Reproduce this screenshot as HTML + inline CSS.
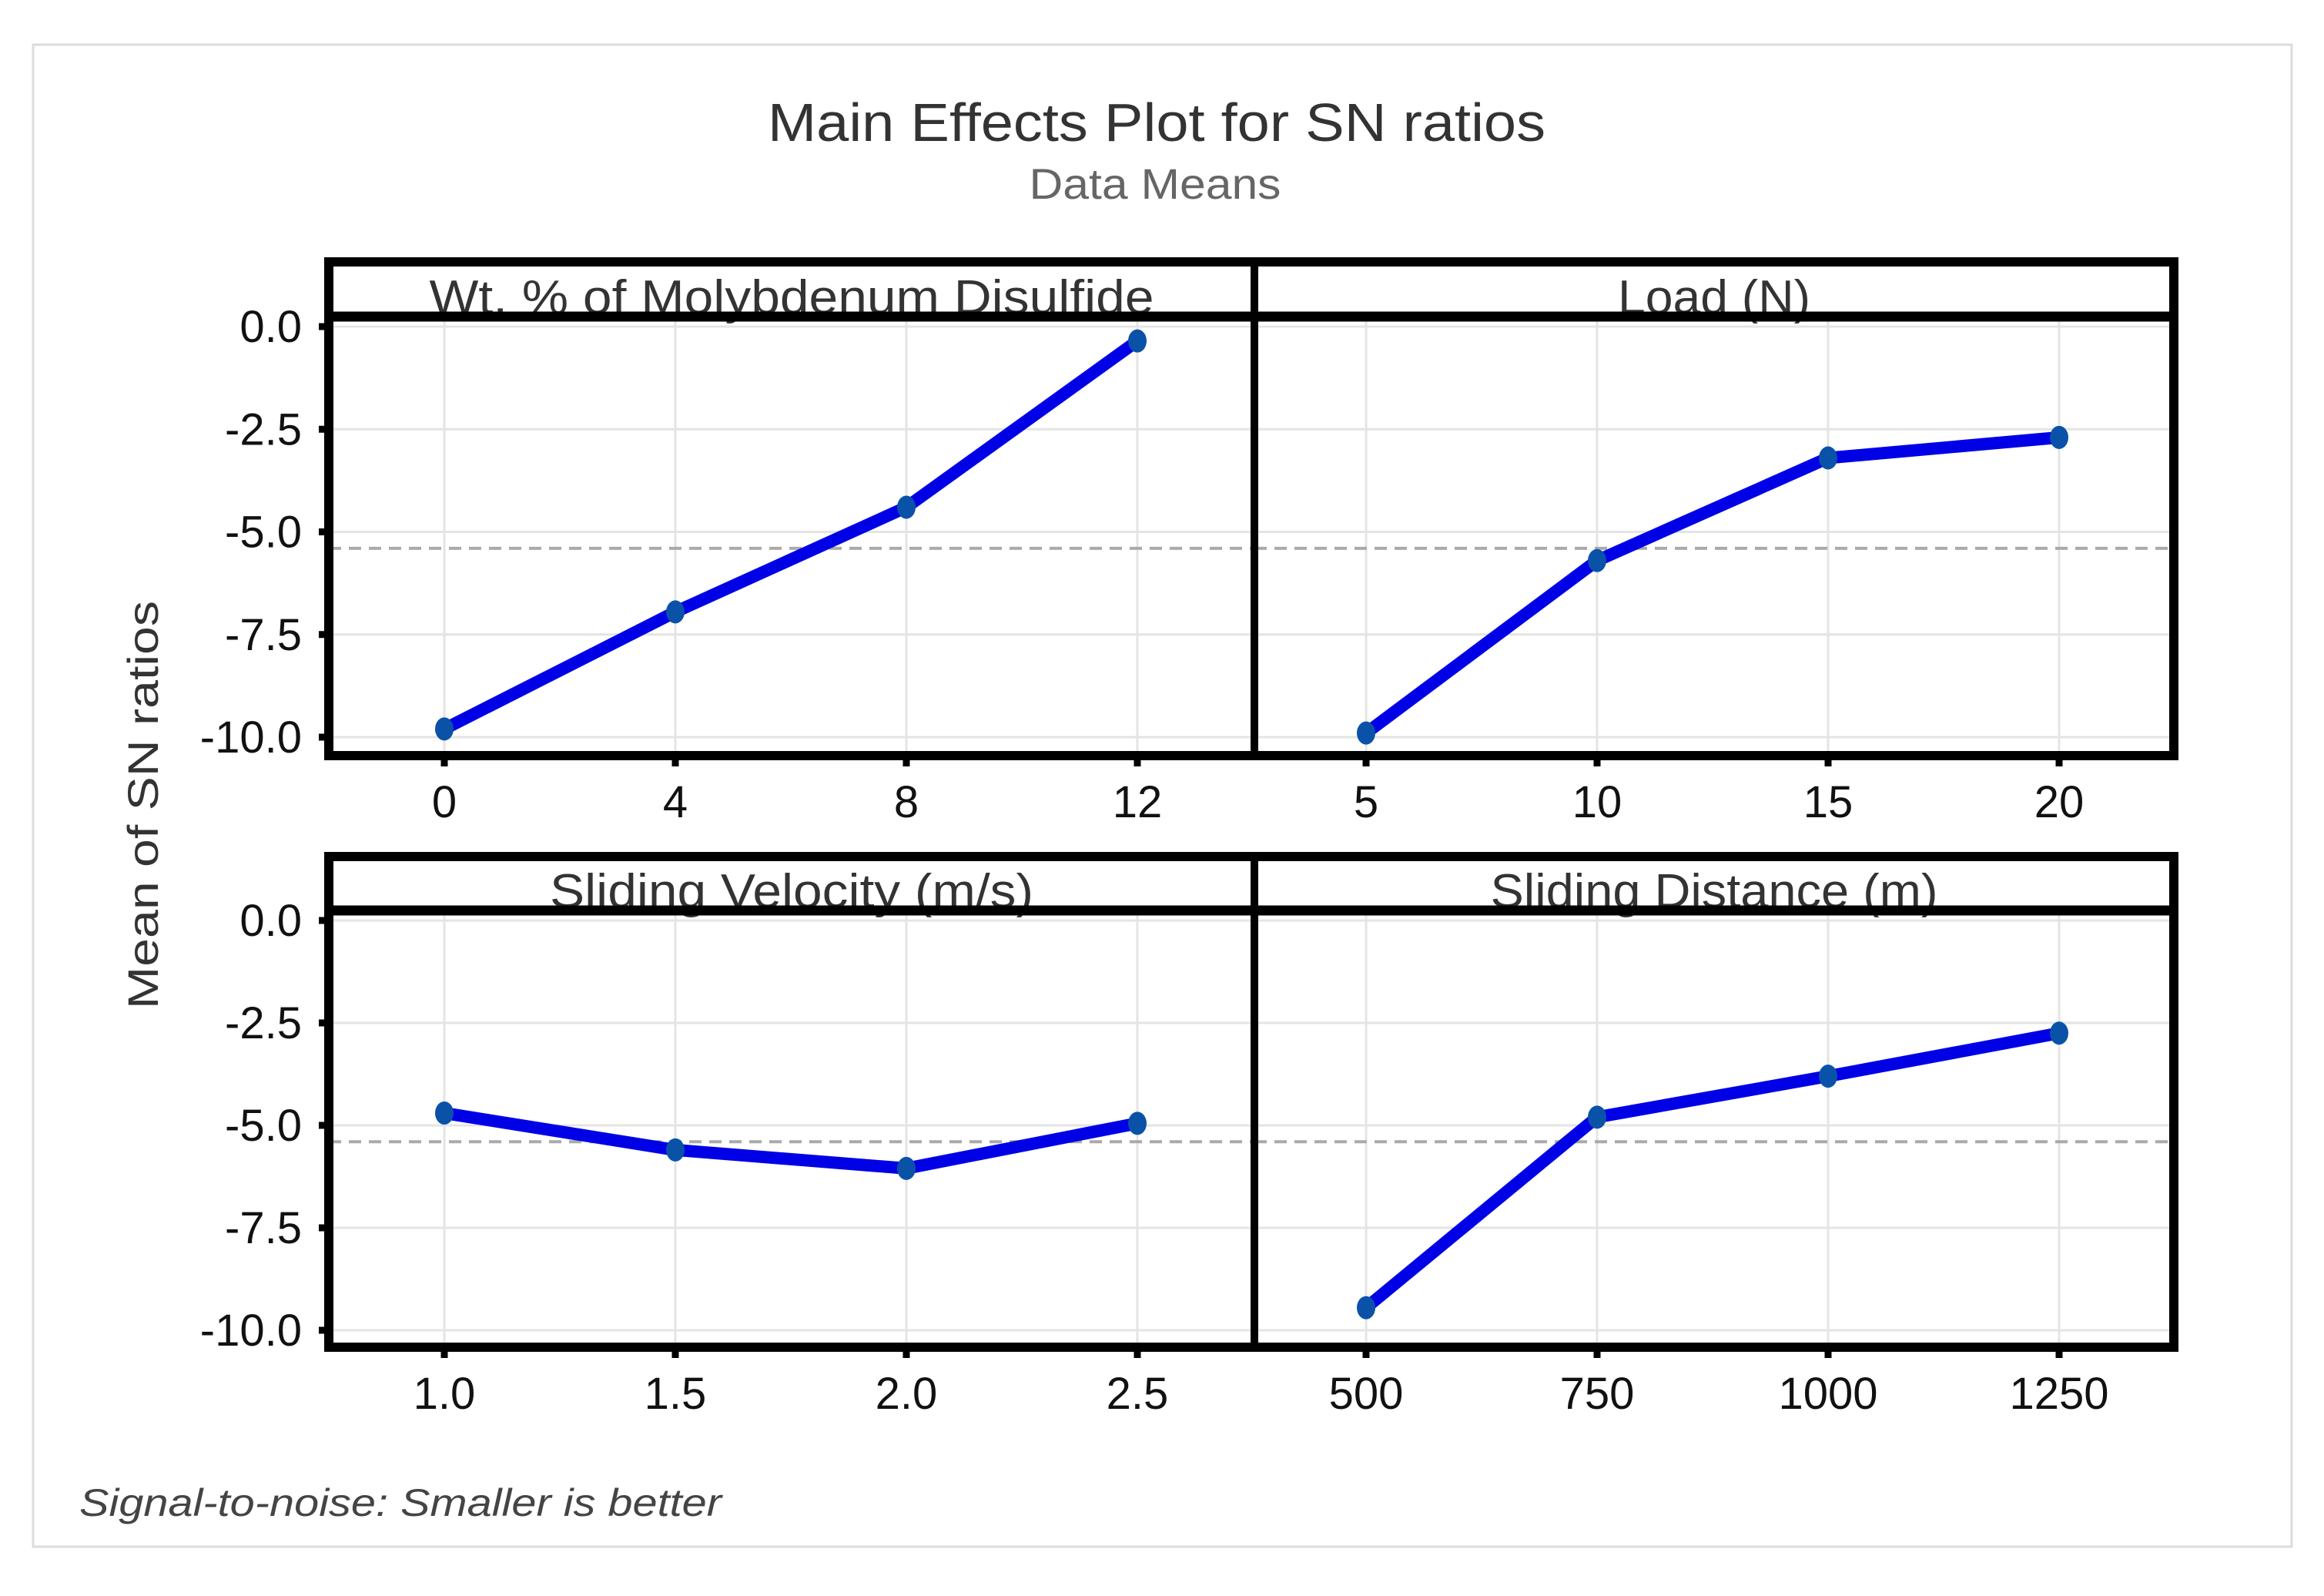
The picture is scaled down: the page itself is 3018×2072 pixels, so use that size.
<!DOCTYPE html>
<html><head><meta charset="utf-8"><style>
html,body{margin:0;padding:0;background:#fff}
svg{display:block}
text{font-family:"Liberation Sans",sans-serif}
</style></head><body>
<svg id="chart" width="3018" height="2072" viewBox="0 0 3018 2072" xmlns="http://www.w3.org/2000/svg">
<rect x="43" y="58" width="2933" height="1950" fill="#fff" stroke="#dcdcdc" stroke-width="3"/>
<text x="1502" y="183" text-anchor="middle" font-size="70" fill="#333" textLength="1010" lengthAdjust="spacingAndGlyphs">Main Effects Plot for SN ratios</text>
<text x="1500" y="258" text-anchor="middle" font-size="56" fill="#666" textLength="327" lengthAdjust="spacingAndGlyphs">Data Means</text>
<text transform="translate(205,1045) rotate(-90)" text-anchor="middle" font-size="56" fill="#333" textLength="530" lengthAdjust="spacingAndGlyphs">Mean of SN ratios</text>
<text x="103" y="1968" font-size="50" font-style="italic" fill="#444" textLength="834" lengthAdjust="spacingAndGlyphs">Signal-to-noise: Smaller is better</text>
<g id="plots"></g>
</svg>
<script>
const factorNames = ["Wt. % of Molybdenum Disulfide", "Load (N)", "Sliding Velocity (m/s)", "Sliding Distance (m)"];
const levelLabelsWt = ["0", "4", "8", "12"];
const levelLabelsLoad = ["5", "10", "15", "20"];
const levelLabelsVel = ["1.0", "1.5", "2.0", "2.5"];
const levelLabelsDist = ["500", "750", "1000", "1250"];
const meansWt = [-9.8, -6.95, -4.4, -0.35];
const meansLoad = [-9.9, -5.7, -3.2, -2.7];
const meansVel = [-4.7, -5.6, -6.05, -4.95];
const meansDist = [-9.45, -4.8, -3.8, -2.75];
const grandMean = -5.4;
const yTicks = [0, -2.5, -5, -7.5, -10];
const yTickLabels = ["0.0", "-2.5", "-5.0", "-7.5", "-10.0"];

const NS = "http://www.w3.org/2000/svg";
const g = document.getElementById("plots");
function mk(tag, attrs, parent){const e=document.createElementNS(NS,tag);for(const k in attrs)e.setAttribute(k,attrs[k]);(parent||g).appendChild(e);return e;}

const rows = [
  {boxTop:340, headBot:411, y0:424, y10:957, axisBot:981, labelY:1061},
  {boxTop:1112, headBot:1182, y0:1195, y10:1727, axisBot:1749, labelY:1829}
];
const cols = [{x0:427, x1:1629}, {x0:1629, x1:2823}];
const headW = [941, 250, 628, 581];
const panels = [
  {r:0,c:0,name:factorNames[0],labels:levelLabelsWt,vals:meansWt,hw:headW[0]},
  {r:0,c:1,name:factorNames[1],labels:levelLabelsLoad,vals:meansLoad,hw:headW[1]},
  {r:1,c:0,name:factorNames[2],labels:levelLabelsVel,vals:meansVel,hw:headW[2]},
  {r:1,c:1,name:factorNames[3],labels:levelLabelsDist,vals:meansDist,hw:headW[3]}
];

rows.forEach((row, ri) => {
  const yScale = v => row.y0 + (row.y10 - row.y0) * (v / -10);
  yTicks.forEach((t, i) => {
    const y = yScale(t);
    const tk = mk("line",{x1:414,x2:427,y1:y,y2:y,stroke:"#000","stroke-width":9});
    
    
    const lb = mk("text",{x:392,y:y+20,"text-anchor":"end","font-size":58,fill:"#111"});
    lb.textContent = yTickLabels[i];
    
    
  });
  panels.filter(p => p.r === ri).forEach(p => {
    const col = cols[p.c];
    const xScale = i => col.x0 + (p.c === 0 ? 150 : 145) + i * 300;
    yTicks.forEach(t => {
      const y = yScale(t);
      const gl = mk("line",{x1:col.x0,x2:col.x1,y1:y,y2:y,stroke:"#e4e4e4","stroke-width":3});
      
      
    });
    p.labels.forEach((l, i) => {
      const x = xScale(i);
      const vg = mk("line",{x1:x,x2:x,y1:row.headBot,y2:row.axisBot,stroke:"#e4e4e4","stroke-width":3});
      
      
      const tk = mk("line",{x1:x,x2:x,y1:row.axisBot,y2:row.axisBot+14,stroke:"#000","stroke-width":9});
      
      
      const lb = mk("text",{x:x,y:row.labelY,"text-anchor":"middle","font-size":58,fill:"#111"});
      lb.textContent = l;
      
      
    });
    const ym = yScale(grandMean);
    const ml = mk("line",{x1:col.x0,x2:col.x1,y1:ym,y2:ym,stroke:"#aaa","stroke-width":4,"stroke-dasharray":"16,10"});
    
    
    const pts = p.vals.map((v,i) => xScale(i)+","+yScale(v)).join(" ");
    const pl = mk("polyline",{points:pts,fill:"none",stroke:"#0000e6","stroke-width":16,"stroke-linejoin":"round"});
    
    
    p.vals.forEach((v,i) => {
      const c = mk("ellipse",{cx:xScale(i),cy:yScale(v),rx:12,ry:15,fill:"#0a52a8"});
      
      
    });
    const hd = mk("rect",{x:col.x0,y:row.boxTop,width:col.x1-col.x0,height:row.headBot-row.boxTop,fill:"#fff"});
    
    
    const ht = mk("text",{x:(col.x0+col.x1)/2,y:row.headBot-4,"text-anchor":"middle","font-size":62,fill:"#333",textLength:p.hw,lengthAdjust:"spacingAndGlyphs"});
    ht.textContent = p.name;
    
    
  });
  const fr = mk("rect",{x:427,y:row.boxTop,width:2823-427,height:row.axisBot-row.boxTop,fill:"none",stroke:"#000","stroke-width":12});
  
  
  const hl = mk("line",{x1:427,x2:2823,y1:row.headBot,y2:row.headBot,stroke:"#000","stroke-width":13});
  
  
  const dv = mk("line",{x1:1629,x2:1629,y1:row.boxTop,y2:row.axisBot,stroke:"#000","stroke-width":10});
  
  
});
</script>
</body></html>
